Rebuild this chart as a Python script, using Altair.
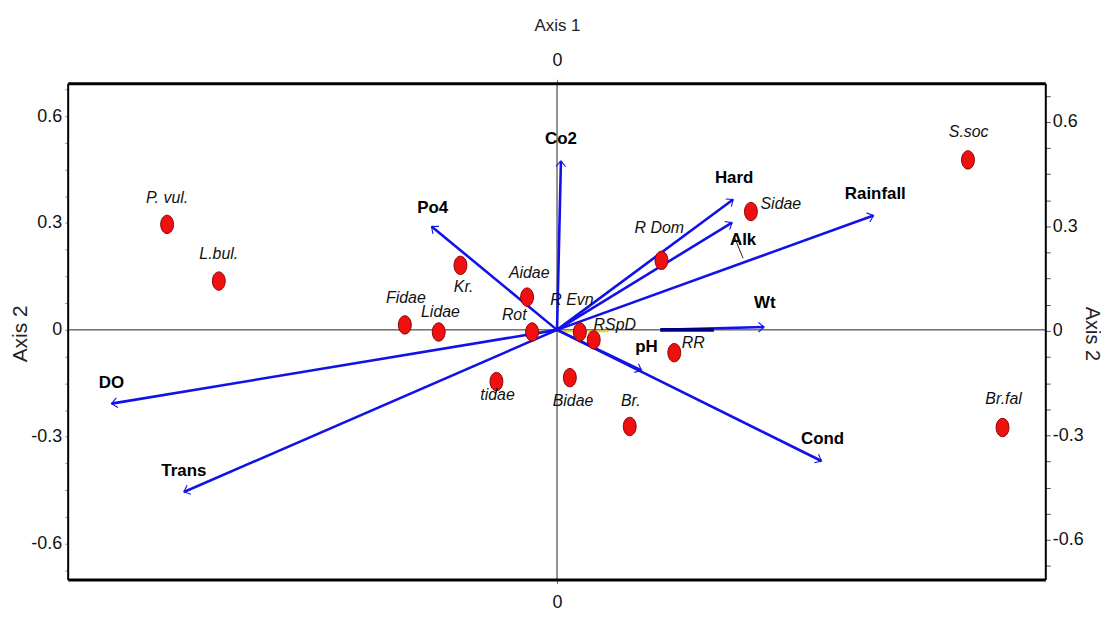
import altair as alt
import pandas as pd
import numpy as np

# ---- Species scores (Axis 1, Axis 2) and their label anchors ----
species = ["P. vul.", "L.bul.", "Fidae", "Lidae", "Kr.", "Aidae", "Rot", "R Evn", "RSpD",
           "tidae", "Bidae", "Br.", "RR", "R Dom", "Sidae", "S.soc", "Br.fal"]
sp_x = [-1.094, -0.949, -0.427, -0.332, -0.271, -0.084, -0.070, 0.064, 0.103,
        -0.170, 0.036, 0.204, 0.329, 0.293, 0.544, 1.153, 1.250]
sp_y = [0.296, 0.137, 0.014, -0.006, 0.181, 0.092, -0.006, -0.006, -0.028,
        -0.145, -0.134, -0.271, -0.064, 0.195, 0.332, 0.477, -0.274]
sp_lab_x = [-1.094, -0.949, -0.424, -0.327, -0.262, -0.078, -0.120, 0.042, 0.162,
            -0.167, 0.045, 0.207, 0.382, 0.287, 0.628, 1.155, 1.253]
sp_lab_y = [0.371, 0.212, 0.089, 0.050, 0.120, 0.159, 0.042, 0.084, 0.014,
            -0.184, -0.201, -0.201, -0.036, 0.285, 0.352, 0.555, -0.193]

# ---- Environmental variable arrows ----
env = ["Co2", "Po4", "Hard", "Alk", "Rainfall", "Wt", "pH", "Cond", "DO", "Trans"]
env_x0 = [0, 0, 0, 0, 0, 0.290, 0, 0, 0, 0]
env_y0 = [0, 0, 0, 0, 0, 0, 0, 0, 0, 0]
env_x = [0.011, -0.352, 0.494, 0.491, 0.888, 0.581, 0.237, 0.742, -1.250, -1.047]
env_y = [0.474, 0.290, 0.366, 0.301, 0.321, 0.008, -0.114, -0.368, -0.207, -0.455]
env_lab_x = [0.011, -0.349, 0.497, 0.522, 0.893, 0.583, 0.251, 0.745, -1.250, -1.047]
env_lab_y = [0.536, 0.343, 0.427, 0.251, 0.382, 0.075, -0.047, -0.307, -0.148, -0.396]

# supplementary (yellow) vectors
sup_x0 = [0, 0]
sup_y0 = [-0.004, 0]
sup_x1 = [0.145, 0]
sup_y1 = [-0.004, 0.070]

# dark overlap segment along Wt
dark_x0 = [0.290]
dark_x1 = [0.440]
dark_y = [0.0]

# leader line for the Alk label
lead_x0 = [0.497]
lead_y0 = [0.262]
lead_x1 = [0.522]
lead_y1 = [0.201]

# axis ticks
ytick_vals = [-0.675, -0.6, -0.525, -0.45, -0.375, -0.3, -0.225, -0.15, -0.075, 0,
              0.075, 0.15, 0.225, 0.3, 0.375, 0.45, 0.525, 0.6, 0.675]
ymajor = ["-0.6", "-0.3", "0", "0.3", "0.6"]
x_dom = [-1.373, 1.370]
y_dom = [-0.7005, 0.692]
y_dom_right = [-0.714, 0.711]

W, H = 983, 499
FONT = "Liberation Sans, Arial, sans-serif"
BLUE = "#1212e8"

xs = alt.Scale(domain=x_dom, nice=False, zero=False)
ys = alt.Scale(domain=y_dom, nice=False, zero=False)
ysr = alt.Scale(domain=y_dom_right, nice=False, zero=False)


def X(f):
    return alt.X(f, type="quantitative", scale=xs, axis=None)


def Y(f):
    return alt.Y(f, type="quantitative", scale=ys, axis=None)


sp_df = pd.DataFrame({"name": species, "x": sp_x, "y": sp_y, "lx": sp_lab_x, "ly": sp_lab_y})
env_df = pd.DataFrame({"name": env, "x0": env_x0, "y0": env_y0, "x": env_x, "y": env_y,
                       "lx": env_lab_x, "ly": env_lab_y})
env_df["ang"] = (np.degrees(np.arctan2(-(env_df["y"] - env_df["y0"]),
                                       env_df["x"] - env_df["x0"])) + 360) % 360
sup_df = pd.DataFrame({"x0": sup_x0, "y0": sup_y0, "x1": sup_x1, "y1": sup_y1})
dark_df = pd.DataFrame({"x0": dark_x0, "x1": dark_x1, "y": dark_y})
lead_df = pd.DataFrame({"x0": lead_x0, "y0": lead_y0, "x1": lead_x1, "y1": lead_y1})
zero_df = pd.DataFrame({"x0": [x_dom[0], 0], "x1": [x_dom[1], 0],
                        "y0": [0, y_dom[0]], "y1": [0, y_dom[1]]})
anchor_df = pd.DataFrame({"x": [0], "y": [0]})

label_expr = "indexof(%s, toString(datum.value)) >= 0 ? toString(datum.value) : ''" % str(ymajor).replace('"', "'")

common_lab = dict(labelFont=FONT, labelFontSize=18, labelColor="#111", grid=False,
                  domainColor="black")
common_title = dict(titleFont=FONT, titleFontWeight="normal", titleColor="#222",
                    titleAlign="center", titleBaseline="middle")

# axes: left + bottom
axes_lb = alt.Chart(anchor_df).mark_point(opacity=0).encode(
    x=alt.X("x:Q", scale=xs, axis=alt.Axis(
        orient="bottom", values=[0], title=None, tickSize=4, labelPadding=10,
        domainWidth=3, tickColor="#777", labelFlush=False, **common_lab)),
    y=alt.Y("y:Q", scale=ys, axis=alt.Axis(
        orient="left", values=ytick_vals, labelExpr=label_expr, labelOverlap=False,
        title="Axis 2", titleFontSize=21, titleAngle=270, titleX=-47, titleY=H / 2 + 2,
        tickSize=3, tickColor="#999", labelPadding=3, domainWidth=2,
        **common_lab, **common_title)),
)

# axes: top + right
axes_tr = alt.Chart(anchor_df).mark_point(opacity=0).encode(
    x=alt.X("x:Q", scale=xs, axis=alt.Axis(
        orient="top", values=[0], title="Axis 1", titleFontSize=17,
        titleX=(0 - x_dom[0]) / (x_dom[1] - x_dom[0]) * W, titleY=-58,
        tickSize=4, labelPadding=10, domainWidth=3, tickColor="#777",
        labelFlush=False, **common_lab, **common_title)),
    y=alt.Y("y:Q", scale=ysr, axis=alt.Axis(
        orient="right", values=ytick_vals, labelExpr=label_expr, labelOverlap=False,
        title="Axis 2", titleFontSize=20, titleAngle=90, titleX=46, titleY=H / 2 + 2,
        tickSize=5, tickColor="#555", labelPadding=2, domainWidth=2,
        **common_lab, **common_title)),
)

zero_lines = alt.Chart(zero_df).mark_rule(color="#222", strokeWidth=1).encode(
    x=X("x0"), x2=alt.X2("x1"), y=Y("y0"), y2=alt.Y2("y1"))

sup_lines = alt.Chart(sup_df).mark_rule(color="#e8e000", strokeWidth=1.8).encode(
    x=X("x0"), x2=alt.X2("x1"), y=Y("y0"), y2=alt.Y2("y1"))

arrows = alt.Chart(env_df).mark_rule(color=BLUE, strokeWidth=2.6).encode(
    x=X("x0"), x2=alt.X2("x"), y=Y("y0"), y2=alt.Y2("y"))

dark = alt.Chart(dark_df).mark_rule(color="#000080", strokeWidth=4).encode(
    x=X("x0"), x2=alt.X2("x1"), y=Y("y"))

heads = alt.Chart(env_df).mark_point(
    shape="M-1,-0.85L0,0L-1,0.85", filled=False, stroke=BLUE, strokeWidth=1.1,
    size=130, opacity=1).encode(
    x=X("x"), y=Y("y"), angle=alt.Angle("ang:Q", scale=None))

leader = alt.Chart(lead_df).mark_rule(color="#222", strokeWidth=1).encode(
    x=X("x0"), x2=alt.X2("x1"), y=Y("y0"), y2=alt.Y2("y1"))

points = alt.Chart(sp_df).mark_point(
    shape="M0,-1A0.7,1,0,1,1,0,1A0.7,1,0,1,1,0,-1Z", filled=True,
    fill="#f01010", stroke="#8a0000", strokeWidth=1, size=340, opacity=1).encode(
    x=X("x"), y=Y("y"))

sp_labels = alt.Chart(sp_df).mark_text(
    font=FONT, fontSize=16, fontStyle="italic", color="#111",
    align="center", baseline="middle").encode(
    x=X("lx"), y=Y("ly"), text="name:N")

env_labels = alt.Chart(env_df).mark_text(
    font=FONT, fontSize=17, fontWeight="bold", color="#000",
    align="center", baseline="middle").encode(
    x=X("lx"), y=Y("ly"), text="name:N")

chart = alt.layer(
    axes_lb, axes_tr, zero_lines, sup_lines, arrows, dark, heads, leader,
    points, sp_labels, env_labels
).resolve_scale(
    x="independent", y="independent"
).resolve_axis(
    x="independent", y="independent"
).properties(
    width=W, height=H,
    padding={"left": 60, "top": 74, "right": 56, "bottom": 34},
    autosize=alt.AutoSizeParams(type="none"),
    background="white",
).configure_view(stroke=None)

chart.save("out.html", embed_options={"renderer": "svg", "actions": False})
